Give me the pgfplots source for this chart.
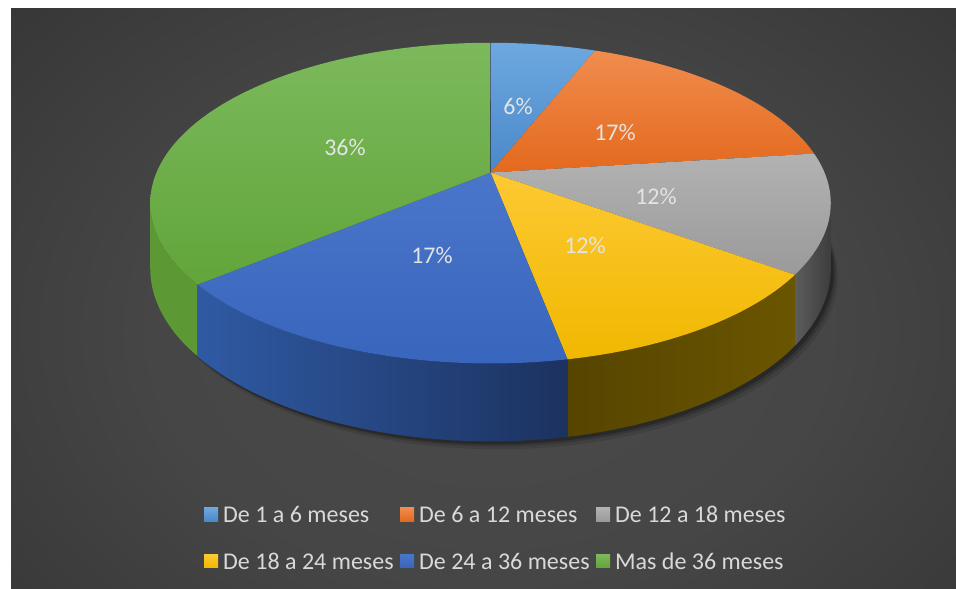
\documentclass[border=0pt]{standalone}
\usepackage{pgfplots}
\pgfplotsset{compat=1.18}
\usepackage{pgfplotstable}
\usepackage{fontspec}
\setmainfont{Carlito}

\definecolor{bgin}{HTML}{4A4A4A}
\definecolor{bgmid}{HTML}{464646}
\definecolor{bgout}{HTML}{202020}
\pgfdeclareradialshading{bgshade}{\pgfpoint{0bp}{0bp}}{color(0bp)=(bgin); color(15bp)=(bgmid); color(50bp)=(bgout)}

\definecolor{lbA}{HTML}{5B9BD5}
\definecolor{lbB}{HTML}{ED7D31}
\definecolor{lbC}{HTML}{A5A5A5}
\definecolor{lbD}{HTML}{FFC000}
\definecolor{lbE}{HTML}{4472C4}
\definecolor{lbF}{HTML}{70AD47}
\definecolor{labtext}{HTML}{E4E4E4}
\definecolor{legtext}{HTML}{D9D9D9}

\definecolor{wCl}{HTML}{5C5C5C}
\definecolor{wCr}{HTML}{3D3D3D}
\definecolor{wDl}{HTML}{564500}
\definecolor{wDr}{HTML}{6A5500}
\definecolor{wEl}{HTML}{2F5AA3}
\definecolor{wEr}{HTML}{1C3260}
\definecolor{wF}{HTML}{5C9834}

\definecolor{tAt}{HTML}{6DA8E0}
\definecolor{tAb}{HTML}{4A88C8}
\definecolor{tBt}{HTML}{F08C4E}
\definecolor{tBb}{HTML}{E4691D}
\definecolor{tCt}{HTML}{B2B2B2}
\definecolor{tCb}{HTML}{9A9A9A}
\definecolor{tDt}{HTML}{FDC933}
\definecolor{tDb}{HTML}{F0B800}
\definecolor{tEt}{HTML}{4A76CA}
\definecolor{tEb}{HTML}{3866BC}
\definecolor{tFt}{HTML}{7CB95C}
\definecolor{tFb}{HTML}{62A53A}

\pgfplotstableread{
slice value
1 6
2 17
3 12
4 12
5 17
6 36
}\piedata

\pgfplotstablegetelem{0}{value}\of\piedata\pgfmathsetmacro\vA{\pgfplotsretval}
\pgfplotstablegetelem{1}{value}\of\piedata\pgfmathsetmacro\vB{\pgfplotsretval}
\pgfplotstablegetelem{2}{value}\of\piedata\pgfmathsetmacro\vC{\pgfplotsretval}
\pgfplotstablegetelem{3}{value}\of\piedata\pgfmathsetmacro\vD{\pgfplotsretval}
\pgfplotstablegetelem{4}{value}\of\piedata\pgfmathsetmacro\vE{\pgfplotsretval}
\pgfplotstablegetelem{5}{value}\of\piedata\pgfmathsetmacro\vF{\pgfplotsretval}
\pgfmathsetmacro\tA{0}
\pgfmathsetmacro\tB{\tA+3.6*\vA}
\pgfmathsetmacro\tC{\tB+3.6*\vB}
\pgfmathsetmacro\tD{\tC+3.6*\vC}
\pgfmathsetmacro\tE{\tD+3.6*\vD}
\pgfmathsetmacro\tF{\tE+3.6*\vE}
\pgfmathsetmacro\tG{\tF+3.6*\vF}
% visible side wall limits (silhouette)
\pgfmathsetmacro\sL{101.0}
\pgfmathsetmacro\sR{259.0}

\begin{document}
\begin{tikzpicture}
\begin{axis}[
  scale only axis, width=956bp, height=589bp,
  xmin=0, xmax=956, ymin=0, ymax=589, y dir=reverse,
  axis lines=none, clip=false,
  declare function={
    PW(\t)=1+0.191*cos(\t);
    PX(\t)=490.5+334*sin(\t)/PW(\t);
    PY(\t)=172.5-154.5*cos(\t)/PW(\t);
    PYB(\t)=PY(\t)+63/PW(\t);
    WA(\s,\a,\b)=\a+(\b-\a)*max(0,min(1,min(\s,2.1-\s)));
    WX(\s,\a,\b)=PX(WA(\s,\a,\b));
    WY(\s,\a,\b)=ifthenelse(\s<=1.05,PY(WA(\s,\a,\b)),PYB(WA(\s,\a,\b)));
  },
  legend columns=3, legend cell align=left,
  legend style={at={(axis cs:204,506)}, anchor=north west, draw=none, fill=none,
    text=legtext, font=\fontsize{24.1}{29}\selectfont, inner sep=0pt, row sep=28.5bp,
    nodes={inner sep=0pt},
    /tikz/every odd column/.append style={column sep=5bp},
    /tikz/every even column/.append style={column sep=6.5bp}},
]
% background
\fill[white] (0,0) rectangle (956,589);
\begin{scope}
\clip (11,9) rectangle (956,589);
\shade[shading=bgshade] (-70,-90) rectangle (1050,750);
\end{scope}

% shadow
\addplot[forget plot, fill=black, fill opacity=0.10, draw=none, domain=0:360, samples=120] ({PX(x)+7},{PYB(x)+8}) -- cycle;
\addplot[forget plot, fill=black, fill opacity=0.15, draw=none, domain=0:360, samples=120] ({PX(x)+5},{PYB(x)+5}) -- cycle;
\addplot[forget plot, fill=black, fill opacity=0.24, draw=none, domain=0:360, samples=120] ({PX(x)+3},{PYB(x)+3}) -- cycle;

% side walls
\addplot[forget plot, draw=none, left color=wCl, right color=wCr, domain=0:2.2, samples=441, variable=\s]
  ({WX(\s,\sL,\tD)},{WY(\s,\sL,\tD)}) -- cycle;
\addplot[forget plot, draw=none, left color=wDl, right color=wDr, domain=0:2.2, samples=441, variable=\s]
  ({WX(\s,\tD,\tE)},{WY(\s,\tD,\tE)}) -- cycle;
\addplot[forget plot, draw=none, left color=wEl, right color=wEr, domain=0:2.2, samples=441, variable=\s]
  ({WX(\s,\tE,\tF)},{WY(\s,\tE,\tF)}) -- cycle;
\addplot[forget plot, draw=none, fill=wF, domain=0:2.2, samples=441, variable=\s]
  ({WX(\s,\tF,\sR)},{WY(\s,\tF,\sR)}) -- cycle;

% top face
\addplot[draw=none, top color=tAt, bottom color=tAb, domain=\tA:\tB, samples=40,
  legend image code/.code={\fill[lbA] (0bp,-6bp) rectangle (14bp,7.5bp);}]
  ({PX(x)},{PY(x)}) -- (490.5,172.5) -- cycle;
\addlegendentry{De 1 a 6 meses}
\addplot[draw=none, top color=tBt, bottom color=tBb, domain=\tB:\tC, samples=80,
  legend image code/.code={\fill[lbB] (0bp,-6bp) rectangle (14bp,7.5bp);}]
  ({PX(x)},{PY(x)}) -- (490.5,172.5) -- cycle;
\addlegendentry{De 6 a 12 meses}
\addplot[draw=none, top color=tCt, bottom color=tCb, domain=\tC:\tD, samples=60,
  legend image code/.code={\fill[lbC] (0bp,-6bp) rectangle (14bp,7.5bp);}]
  ({PX(x)},{PY(x)}) -- (490.5,172.5) -- cycle;
\addlegendentry{De 12 a 18 meses}
\addplot[draw=none, top color=tDt, bottom color=tDb, domain=\tD:\tE, samples=60,
  legend image code/.code={\fill[lbD] (0bp,-6bp) rectangle (14bp,7.5bp);}]
  ({PX(x)},{PY(x)}) -- (490.5,172.5) -- cycle;
\addlegendentry{De 18 a 24 meses}
\addplot[draw=none, top color=tEt, bottom color=tEb, domain=\tE:\tF, samples=80,
  legend image code/.code={\fill[lbE] (0bp,-6bp) rectangle (14bp,7.5bp);}]
  ({PX(x)},{PY(x)}) -- (490.5,172.5) -- cycle;
\addlegendentry{De 24 a 36 meses}
\addplot[draw=none, top color=tFt, bottom color=tFb, domain=\tF:\tG, samples=140,
  legend image code/.code={\fill[lbF] (0bp,-6bp) rectangle (14bp,7.5bp);}]
  ({PX(x)},{PY(x)}) -- (490.5,172.5) -- cycle;
\addlegendentry{Mas de 36 meses}

% data labels
\node[text=labtext, font=\fontsize{24}{28}\selectfont] at (axis cs:518,106) {6\%};
\node[text=labtext, font=\fontsize{24}{28}\selectfont] at (axis cs:615,132) {17\%};
\node[text=labtext, font=\fontsize{24}{28}\selectfont] at (axis cs:656,196) {12\%};
\node[text=labtext, font=\fontsize{24}{28}\selectfont] at (axis cs:585,245) {12\%};
\node[text=labtext, font=\fontsize{24}{28}\selectfont] at (axis cs:432,255) {17\%};
\node[text=labtext, font=\fontsize{24}{28}\selectfont] at (axis cs:345,147) {36\%};
\end{axis}
\end{tikzpicture}
\end{document}
